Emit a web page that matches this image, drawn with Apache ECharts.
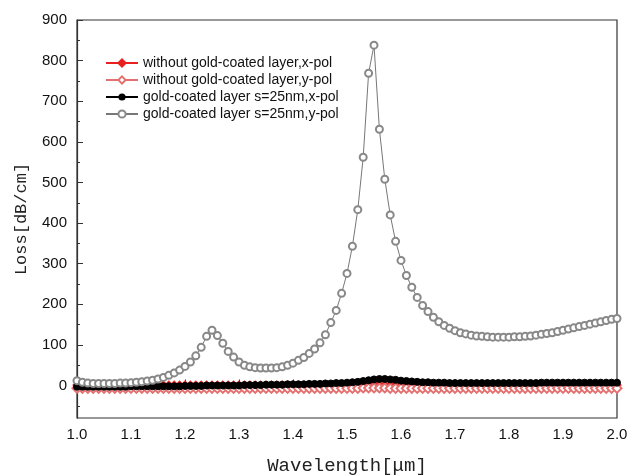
<!DOCTYPE html>
<html lang="en">
<head>
    <meta charset="UTF-8">
    <title>Loss vs Wavelength</title>
    <script src="https://cdn.jsdelivr.net/npm/echarts@6/dist/echarts.min.js"></script>
    <style>
        body { margin: 0; background: #fff; }
    </style>
</head>
<body>
    <div id="main" style="width: 630px; height: 476px;"></div>

    <script type="text/javascript">
        // wavelength samples (um)
        const wavelengths = [
            1.00, 1.01, 1.02, 1.03, 1.04, 1.05, 1.06, 1.07, 1.08, 1.09,
            1.10, 1.11, 1.12, 1.13, 1.14, 1.15, 1.16, 1.17, 1.18, 1.19,
            1.20, 1.21, 1.22, 1.23, 1.24, 1.25, 1.26, 1.27, 1.28, 1.29,
            1.30, 1.31, 1.32, 1.33, 1.34, 1.35, 1.36, 1.37, 1.38, 1.39,
            1.40, 1.41, 1.42, 1.43, 1.44, 1.45, 1.46, 1.47, 1.48, 1.49,
            1.50, 1.51, 1.52, 1.53, 1.54, 1.55, 1.56, 1.57, 1.58, 1.59,
            1.60, 1.61, 1.62, 1.63, 1.64, 1.65, 1.66, 1.67, 1.68, 1.69,
            1.70, 1.71, 1.72, 1.73, 1.74, 1.75, 1.76, 1.77, 1.78, 1.79,
            1.80, 1.81, 1.82, 1.83, 1.84, 1.85, 1.86, 1.87, 1.88, 1.89,
            1.90, 1.91, 1.92, 1.93, 1.94, 1.95, 1.96, 1.97, 1.98, 1.99, 2.00
        ];

        // without gold-coated layer, x-pol
        const noGoldX = [
            1, 1, 1, 1, 1, 1, 1, 1, 1, 1,
            1, 1, 1, 1, 1, 1, 1, 1, 1, 1,
            1, 1, 1, 1, 1, 1, 1, 1, 1, 1,
            1, 1, 1, 1, 1, 1, 1, 1, 1, 1,
            1, 1, 1, 1, 1, 1, 1, 1, 1, 1,
            1, 1, 1, 2, 2, 2, 2, 2, 1, 1,
            1, 1, 1, 1, 1, 1, 1, 1, 1, 1,
            1, 1, 1, 1, 1, 1, 1, 1, 1, 1,
            1, 1, 1, 1, 1, 1, 1, 1, 1, 1,
            1, 1, 1, 1, 1, 1, 1, 1, 1, 1, 1
        ];

        // without gold-coated layer, y-pol
        const noGoldY = [
            -7, -7, -7, -7, -7, -7, -7, -7, -7, -7,
            -7, -7, -7, -7, -7, -7, -7, -7, -7, -7,
            -7, -7, -7, -7, -7, -7, -7, -7, -7, -7,
            -7, -7, -7, -7, -7, -7, -7, -7, -7, -7,
            -7, -7, -7, -7, -7, -7, -7, -7, -7, -7,
            -7, -7, -7, -6, -6, -6, -6, -6, -7, -7,
            -7, -7, -7, -7, -7, -7, -7, -7, -7, -7,
            -7, -7, -7, -7, -7, -7, -7, -7, -7, -7,
            -7, -7, -7, -7, -7, -7, -7, -7, -7, -7,
            -7, -7, -7, -7, -7, -7, -7, -7, -7, -7, -7
        ];

        // gold-coated layer s=25nm, x-pol
        const goldX = [
            -3, -3, -3, -3, -3, -3, -3, -3, -3, -3,
            -2, -2, -2, -2, -2, -2, -2, -2, -2, -2,
            -1, -1, -1, -1, 0, 0, 0, 0, 0, 0,
            0, 1, 1, 1, 1, 2, 2, 2, 2, 3,
            3, 3, 3, 4, 4, 4, 5, 5, 6, 6,
            7, 8, 9, 11, 13, 15, 16, 16, 15, 14,
            12, 11, 10, 9, 8, 8, 7, 7, 7, 6,
            6, 6, 6, 6, 6, 6, 6, 6, 6, 6,
            6, 6, 6, 6, 6, 6, 7, 7, 7, 7,
            7, 7, 7, 7, 7, 7, 7, 7, 7, 7, 7
        ];

        // gold-coated layer s=25nm, y-pol
        const goldY = [
            12, 8, 6, 5, 5, 5, 5, 5, 6, 6,
            7, 8, 9, 11, 13, 16, 20, 25, 31, 38,
            47, 58, 73, 94, 121, 136, 123, 104, 84, 70,
            58, 50, 46, 44, 43, 43, 43, 44, 46, 50,
            55, 62, 69, 79, 90, 105, 125, 155, 185, 227,
            276, 343, 433, 562, 769, 838, 631, 508, 420, 355,
            308, 271, 242, 217, 197, 182, 168, 157, 148, 141,
            135, 130, 127, 124, 122, 121, 120, 119, 119, 119,
            119, 120, 120, 121, 122, 124, 126, 128, 130, 133,
            136, 139, 142, 145, 148, 151, 154, 157, 160, 163, 165
        ];

        const yLabelValues = [0, 100, 200, 300, 400, 500, 600, 700, 800, 900];
        const yMinorValues = [-50, 50, 150, 250, 350, 450, 550, 650, 750, 850];

        const seriesNames = [
            'without gold-coated layer,x-pol',
            'without gold-coated layer,y-pol',
            'gold-coated layer s=25nm,x-pol',
            'gold-coated layer s=25nm,y-pol'
        ];

        const pairs = vals => wavelengths.map((w, i) => [w, vals[i]]);

        let myChart = echarts.init(document.getElementById('main'), null, { renderer: 'canvas' });

        const tickFont = { fontFamily: 'Liberation Sans, Arial', fontSize: 15, color: '#111' };

        let options = {
            animation: false,
            backgroundColor: '#fff',
            grid: {
                left: 77,
                right: 13,
                top: 20,
                bottom: 58,
                outerBoundsMode: 'none',
                show: true,
                borderColor: '#333',
                borderWidth: 1.2
            },
            legend: {
                orient: 'vertical',
                left: 100,
                top: 51,
                itemWidth: 32,
                itemHeight: 9,
                itemGap: 3,
                data: seriesNames,
                textStyle: { fontFamily: 'Liberation Sans, Arial', fontSize: 14, color: '#111' }
            },
            xAxis: {
                type: 'value',
                min: 1,
                max: 2,
                interval: 0.1,
                name: 'Wavelength[μm]',
                nameLocation: 'middle',
                nameGap: 38,
                nameTextStyle: { fontFamily: 'Liberation Mono', fontSize: 19, color: '#222' },
                axisLine: { lineStyle: { color: '#333', width: 1.2 } },
                axisTick: { inside: true, length: 6, lineStyle: { color: '#333' } },
                minorTick: { show: true, splitNumber: 2, length: 3, lineStyle: { color: '#333' } },
                splitLine: { show: false },
                axisLabel: Object.assign({ margin: 9, formatter: v => v.toFixed(1) }, tickFont)
            },
            yAxis: [{
                type: 'value',
                min: -80,
                max: 900,
                name: 'Loss[dB/cm]',
                nameLocation: 'middle',
                nameGap: 47,
                nameTextStyle: { fontFamily: 'Liberation Mono', fontSize: 17, color: '#222' },
                axisLine: { show: true, lineStyle: { color: '#333', width: 1.2 } },
                axisTick: { inside: true, length: 6, customValues: yLabelValues, lineStyle: { color: '#333' } },
                splitLine: { show: false },
                axisLabel: Object.assign({ margin: 10, customValues: yLabelValues }, tickFont)
            }, {
                type: 'value',
                min: -80,
                max: 900,
                position: 'left',
                axisLine: { show: false },
                axisTick: { show: true, inside: true, length: 3, customValues: yMinorValues, lineStyle: { color: '#333' } },
                axisLabel: { show: false },
                splitLine: { show: false }
            }],
            series: [{
                name: seriesNames[0],
                type: 'line',
                data: pairs(noGoldX),
                symbol: 'diamond',
                symbolSize: 9,
                showAllSymbol: true,
                itemStyle: { color: '#e8201f', borderColor: '#e8201f', borderWidth: 0.5 },
                lineStyle: { color: '#e8201f', width: 1 },
                z: 2
            }, {
                name: seriesNames[1],
                type: 'line',
                data: pairs(noGoldY),
                symbol: 'emptyDiamond',
                symbolSize: 9,
                showAllSymbol: true,
                itemStyle: { color: '#e37070', borderColor: '#e37070', borderWidth: 1 },
                lineStyle: { color: '#e37070', width: 1 },
                z: 3
            }, {
                name: seriesNames[2],
                type: 'line',
                data: pairs(goldX),
                symbol: 'circle',
                symbolSize: 7,
                showAllSymbol: true,
                itemStyle: { color: '#000', borderColor: '#000' },
                lineStyle: { color: '#000', width: 1 },
                z: 4
            }, {
                name: seriesNames[3],
                type: 'line',
                data: pairs(goldY),
                symbol: 'emptyCircle',
                symbolSize: 7,
                showAllSymbol: true,
                itemStyle: { color: '#888', borderColor: '#888', borderWidth: 1 },
                lineStyle: { color: '#777', width: 1 },
                z: 5
            }]
        };

        myChart.setOption(options);

        window.addEventListener('resize', () => {
            myChart.resize();
        });
    </script>
</body>
</html>
